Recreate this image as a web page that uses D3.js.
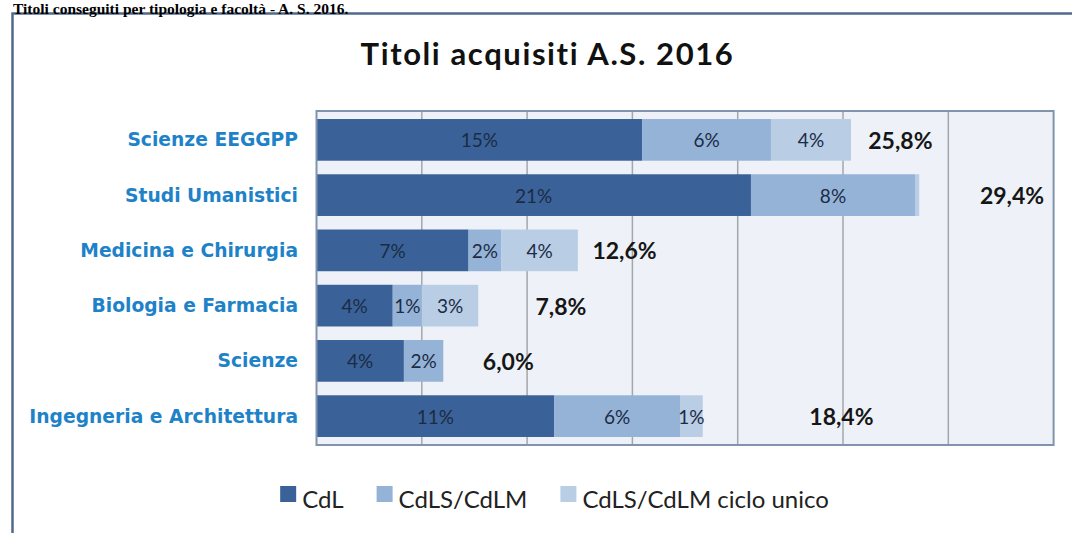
<!DOCTYPE html>
<html><head><meta charset="utf-8">
<script src="https://cdn.jsdelivr.net/npm/d3@7"></script>
<style>body{margin:0;background:#fff}svg{display:block}</style>
</head><body>
<svg id="chart" width="1072" height="533"></svg>
<script>
const categories = ["Scienze EEGGPP","Studi Umanistici","Medicina e Chirurgia","Biologia e Farmacia","Scienze","Ingegneria e Architettura"];
const seriesNames = ["CdL","CdLS/CdLM","CdLS/CdLM ciclo unico"];
const cdl        = [15.46, 20.63, 7.22, 3.62, 4.15, 11.28];
const cdls       = [6.12, 7.79, 1.55, 1.38, 1.87, 5.98];
const cicloUnico = [3.80, 0.2, 3.64, 2.68, 0, 1.08];
const totals     = [25.8, 29.4, 12.6, 7.8, 6.0, 18.4];
const totalLabelAt = [26.2, 31.5, 13.1, 10.4, 7.9, 23.4];
const xTicks = [0,5,10,15,20,25,30,35];
const colors = ["#3a6298","#95b3d7","#b9cde5"];

const svg = d3.select("#chart");
const W = 1072, H = 533;
const plot = {left:316.5, right:1053.6, top:111, bottom:445};

// outer frame
svg.append("path").attr("d",`M12.5,${H} V13.5 H${W}`).attr("fill","none").attr("stroke","#51698c").attr("stroke-width",2.5);

// caption
svg.append("text").attr("x",13).attr("y",13.5)
  .attr("font-family","Liberation Serif, Times New Roman, serif").attr("font-weight","bold").attr("font-size",15.5)
  .attr("fill","#000").text("Titoli conseguiti per tipologia e facoltà - A. S. 2016.");

// title
svg.append("text").attr("x",547.5).attr("y",65).attr("text-anchor","middle")
  .attr("font-family","Lato, sans-serif").attr("font-weight","bold").attr("font-size",31)
  .attr("letter-spacing",1.6)
  .attr("fill","#111").text("Titoli acquisiti A.S. 2016");

const x = d3.scaleLinear().domain([0,35]).range([plot.left, plot.right]);
const y = d3.scaleBand().domain(categories).range([plot.top, plot.bottom]).paddingInner(0.245).paddingOuter(0.145);

// plot background
svg.append("rect").attr("x",plot.left).attr("y",plot.top).attr("width",plot.right-plot.left).attr("height",plot.bottom-plot.top)
  .attr("fill","#eef2f8");

// gridlines
svg.append("g").selectAll("line").data(xTicks.filter(t=>t>0 && t<35)).join("line")
  .attr("x1",d=>x(d)).attr("x2",d=>x(d)).attr("y1",plot.top).attr("y2",plot.bottom)
  .attr("stroke","#a3a6ab").attr("stroke-width",1.5);

// stacked data
const rows = categories.map((c,i)=>({cat:c, CdL:cdl[i], "CdLS/CdLM":cdls[i], "CdLS/CdLM ciclo unico":cicloUnico[i]}));
const stacked = d3.stack().keys(seriesNames)(rows);

const gBars = svg.append("g");
stacked.forEach((layer,k)=>{
  gBars.append("g").selectAll("rect").data(layer).join("rect")
    .attr("x",d=>x(d[0])).attr("width",d=>x(d[1])-x(d[0]))
    .attr("y",d=>y(d.data.cat)).attr("height",y.bandwidth())
    .attr("fill",colors[k]);
});
stacked.forEach((layer,k)=>{
  gBars.append("g").selectAll("text").data(layer.filter(d=>d[1]-d[0]>=0.5)).join("text")
    .attr("x",d=>(x(d[0])+x(d[1]))/2).attr("y",d=>y(d.data.cat)+y.bandwidth()/2)
    .attr("text-anchor","middle").attr("dominant-baseline","central")
    .attr("font-family","Lato, sans-serif").attr("font-size",19).attr("fill","#1b2b45")
    .text(d=>Math.round(d.data[seriesNames[k]])+"%");
});

// plot border
svg.append("rect").attr("x",plot.left).attr("y",plot.top).attr("width",plot.right-plot.left).attr("height",plot.bottom-plot.top)
  .attr("fill","none").attr("stroke","#8193ad").attr("stroke-width",2);

// totals
svg.append("g").selectAll("text").data(categories).join("text")
  .attr("x",(d,i)=>x(totalLabelAt[i])).attr("y",d=>y(d)+y.bandwidth()/2)
  .attr("dominant-baseline","central")
  .attr("font-family","Lato, sans-serif").attr("font-weight","bold").attr("font-size",23).attr("fill","#161616")
  .text((d,i)=>d3.format(".1f")(totals[i]).replace(".",",")+"%");

// category axis labels
svg.append("g").selectAll("text").data(categories).join("text")
  .attr("x",298).attr("y",d=>y(d)+y.bandwidth()/2)
  .attr("text-anchor","end").attr("dominant-baseline","central")
  .attr("font-family","DejaVu Sans, sans-serif").attr("font-weight","bold").attr("font-size",18.7)
  .attr("fill","#1e82c8").text(d=>d);

// legend
const leg = svg.append("g");
let lx = 0;
seriesNames.forEach((n,i)=>{
  const g = leg.append("g");
  g.append("rect").attr("x",0).attr("y",-22).attr("width",16).attr("height",16).attr("fill",colors[i]);
  const t = g.append("text").attr("x",22).attr("y",0).attr("font-family","Lato, sans-serif").attr("font-size",24).attr("fill","#222").text(n);
  const w = 22 + t.node().getComputedTextLength();
  g.attr("transform",`translate(${lx},0)`);
  lx += w + 33;
});
const totalW = lx - 33;
leg.attr("transform",`translate(${554.5-totalW/2},508)`);
</script>
</body></html>
